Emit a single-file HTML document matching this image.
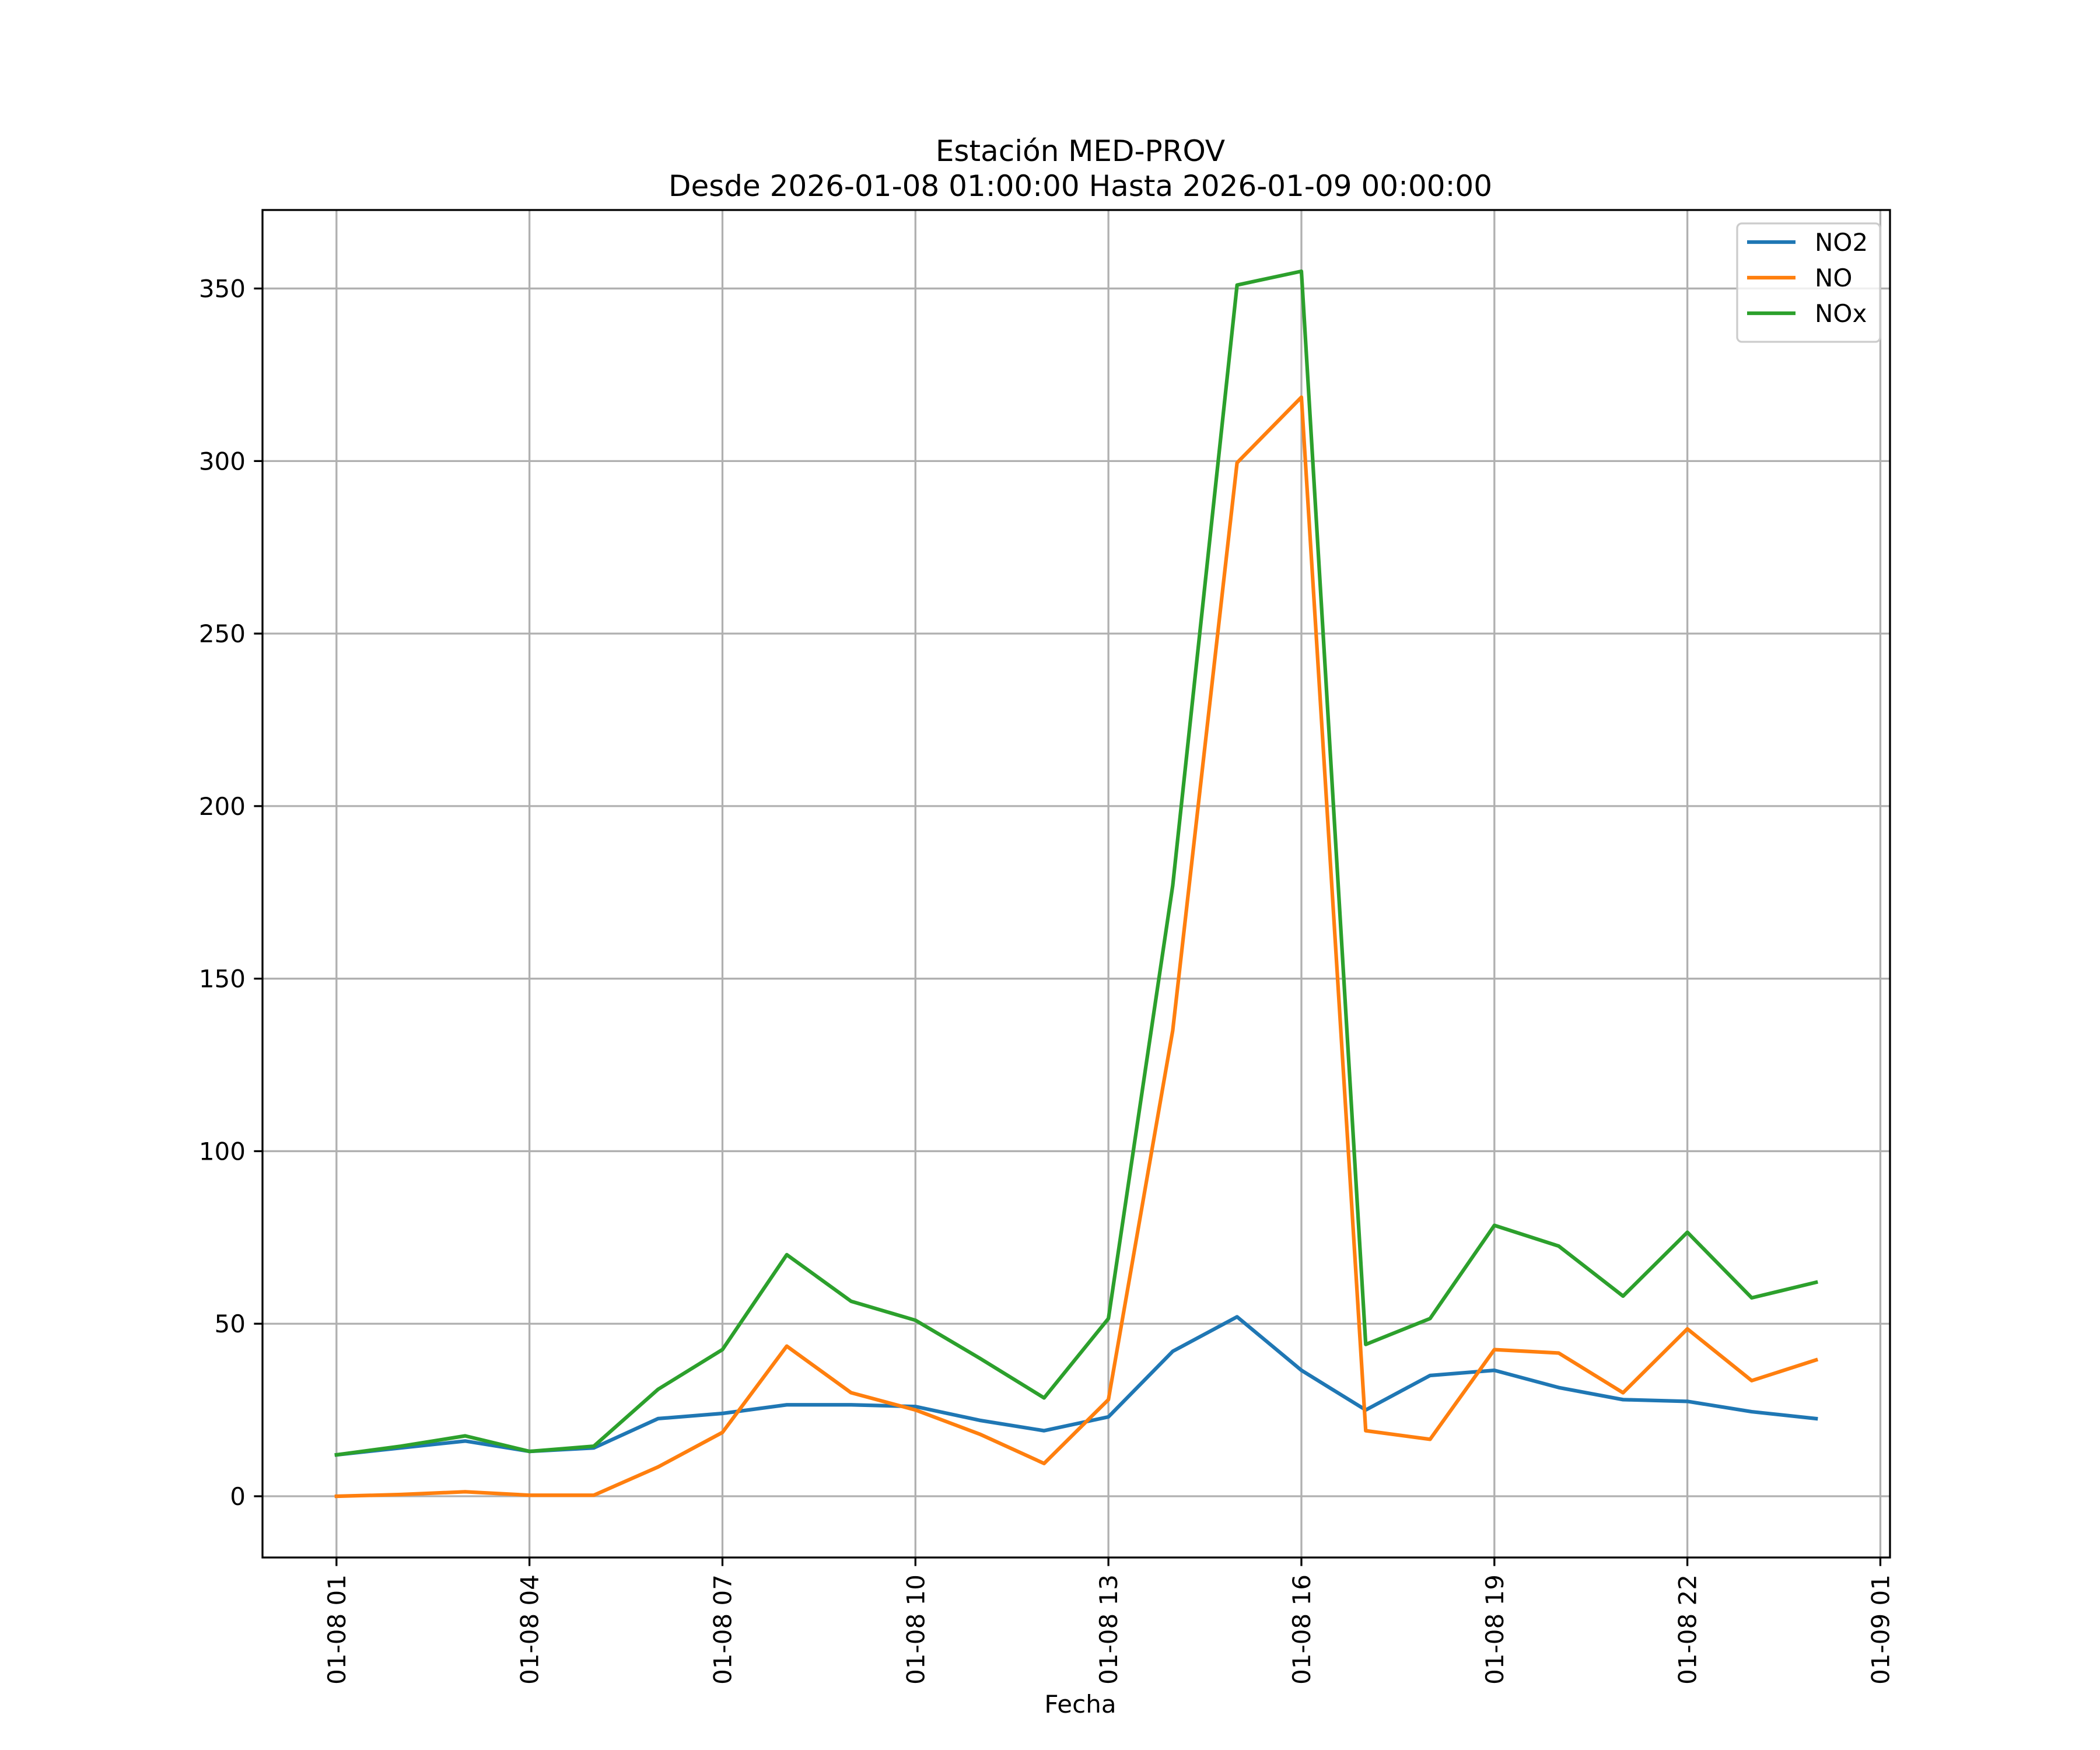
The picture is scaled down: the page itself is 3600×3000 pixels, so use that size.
<!DOCTYPE html>
<html><head><meta charset="utf-8"><style>
html,body{margin:0;padding:0;background:#fff;}
svg{display:block;font-family:"DejaVu Sans","Liberation Sans",sans-serif;}
</style></head><body>
<svg id="chart" width="3600" height="3000" viewBox="0 0 3600 3000" xmlns="http://www.w3.org/2000/svg">
<rect width="3600" height="3000" fill="#fff"/>
<text x="1852" y="276" font-size="50" text-anchor="middle">Estación MED-PROV</text>
<text x="1852" y="336" font-size="50" text-anchor="middle">Desde 2026-01-08 01:00:00 Hasta 2026-01-09 00:00:00</text>
<g id="grid"></g>
<g id="series"></g>
<rect x="450" y="360" width="2790" height="2310" fill="none" stroke="#000" stroke-width="3.3"/>
<g id="ticks"></g>
<text x="1852" y="2936" font-size="42" text-anchor="middle">Fecha</text>
<g transform="translate(-15,0)">
<rect x="2993" y="383" width="245" height="203" rx="8" fill="#fff" fill-opacity="0.8" stroke="#ccc" stroke-width="3.3"/>
<g><line x1="3010" y1="415" x2="3093" y2="415" stroke="#1f77b4" stroke-width="6.25"/><text x="3126" y="430" font-size="42">NO2</text></g>
<g><line x1="3010" y1="476" x2="3093" y2="476" stroke="#ff7f0e" stroke-width="6.25"/><text x="3126" y="491" font-size="42">NO</text></g>
<g><line x1="3010" y1="537" x2="3093" y2="537" stroke="#2ca02c" stroke-width="6.25"/><text x="3126" y="552" font-size="42">NOx</text></g>
</g>
</svg>
<script>
const hours = [1,2,3,4,5,6,7,8,9,10,11,12,13,14,15,16,17,18,19,20,21,22,23,24];
const no2 = [12,14,16,13,14,22.5,24,26.5,26.5,26,22,19,23,42,52,36.5,25,35,36.5,31.5,28,27.5,24.5,22.5];
const no = [0,0.5,1.3,0.3,0.3,8.5,18.5,43.5,30,25,18,9.5,28,135,299.5,318.5,19,16.5,42.5,41.5,30,48.5,33.5,39.5];
const nox = [12,14.5,17.5,13,14.5,31,42.5,70,56.5,51,40,28.5,51.5,177,351,355,44,51.5,78.5,72.5,58,76.5,57.5,62];
const yTicks = [0,50,100,150,200,250,300,350];
const xTickHours = [1,4,7,10,13,16,19,22,25];
const xTickLabels = ["01-08 01","01-08 04","01-08 07","01-08 10","01-08 13","01-08 16","01-08 19","01-08 22","01-09 01"];

const L=450,R=3240,T=360,B=2670;
const xmin=-0.15,xmax=25.15,ymin=-17.75,ymax=372.75;
const X=h=>L+(h-xmin)/(xmax-xmin)*(R-L);
const Y=v=>B-(v-ymin)/(ymax-ymin)*(B-T);
const NS="http://www.w3.org/2000/svg";
function mk(tag,attrs,parent){const e=document.createElementNS(NS,tag);for(const k in attrs)e.setAttribute(k,attrs[k]);parent.appendChild(e);return e;}
const grid=document.getElementById('grid'),ticks=document.getElementById('ticks'),series=document.getElementById('series');
yTicks.forEach(v=>{
  const g=mk('line',{x1:L,x2:R,y1:Y(v),y2:Y(v),stroke:'#b0b0b0','stroke-width':3.3},grid);
  
  
  const t=mk('line',{x1:L-14.6,x2:L,y1:Y(v),y2:Y(v),stroke:'#000','stroke-width':3.3},ticks);
  
  
  const tx=mk('text',{x:L-29,y:Y(v)+15,'font-size':42,'text-anchor':'end'},ticks);
  tx.textContent=v;
  
  
});
xTickHours.forEach((h,i)=>{
  const g=mk('line',{x1:X(h),x2:X(h),y1:T,y2:B,stroke:'#b0b0b0','stroke-width':3.3},grid);
  
  
  const t=mk('line',{x1:X(h),x2:X(h),y1:B,y2:B+14.6,stroke:'#000','stroke-width':3.3},ticks);
  
  
  const tx=mk('text',{x:0,y:0,'font-size':42,'text-anchor':'end',transform:`translate(${X(h)+15},${B+29}) rotate(-90)`},ticks);
  tx.textContent=xTickLabels[i];
  
  
});
[[no2,'#1f77b4','line-no2'],[no,'#ff7f0e','line-no'],[nox,'#2ca02c','line-nox']].forEach(([d,c,n])=>{
  const p=mk('polyline',{points:d.map((v,i)=>X(hours[i])+','+Y(v)).join(' '),fill:'none',stroke:c,'stroke-width':6.25,'stroke-linejoin':'round','stroke-linecap':'square'},series);
  
  
});
</script>
</body></html>
